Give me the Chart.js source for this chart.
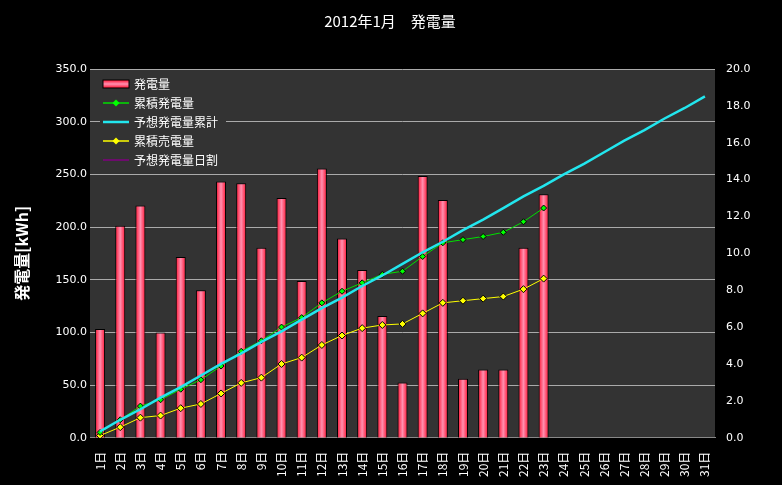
<!DOCTYPE html>
<html><head><meta charset="utf-8">
<script src="https://cdn.jsdelivr.net/npm/chart.js@4"></script>
<style>body{margin:0;background:#000}#wrap{width:782px;height:485px}</style>
</head><body><div id="wrap"><canvas id="c"></canvas></div>
<script>
const days = ["1日","2日","3日","4日","5日","6日","7日","8日","9日","10日","11日","12日","13日","14日","15日","16日","17日","18日","19日","20日","21日","22日","23日","24日","25日","26日","27日","28日","29日","30日","31日"];
const daily = [5.9,11.5,12.6,5.7,9.8,8.0,13.9,13.8,10.3,13.0,8.5,14.6,10.8,9.1,6.6,3.0,14.2,12.9,3.2,3.7,3.7,10.3,13.2];
const cumGen = [5,17,30,36,46,55,68,82,92,105,114,128,139,147,155,158,172,185,188,191,195,205,218];
const cumSold = [2,10,19,21,28,32,42,52,57,70,76,88,97,104,107,108,118,128,130,132,134,141,151];
const forecastCum = [6,17,27,38,48,59,70,80,91,101,112,123,133,144,154,165,176,186,197,207,218,229,239,250,260,271,282,292,303,313,324];
const font = "'Noto Sans CJK JP'";
const ctx = document.getElementById("c").getContext("2d");
function barGrad(c){
  const a = c.chart.chartArea, x = c.chart.scales.x;
  if(!a || !x || c.dataIndex===undefined) return "#f24";
  const cx = x.getPixelForValue(c.dataIndex), w = (a.right-a.left)/31*0.9*0.55;
  const g = c.chart.ctx.createLinearGradient(cx - w/2, 0, cx + w/2, 0);
  g.addColorStop(0,"#ff1030"); g.addColorStop(0.5,"#ff90b0"); g.addColorStop(1,"#ff1030");
  return g;
}
const legendItems = [
  ["発電量","bar"],["累積発電量","#00e000","#00ff00"],["予想発電量累計","#22e6ee"],["累積売電量","#ffff00","#ffff00"],["予想発電量日割","#800080"]
];
new Chart(ctx, {
  data: {
    labels: days,
    datasets: [
      {type:"bar",label:"発電量",data:daily,yAxisID:"y1",backgroundColor:barGrad,borderColor:"#000",borderWidth:1,categoryPercentage:0.9,barPercentage:0.55,order:5},
      {type:"line",label:"累積発電量",data:cumGen,yAxisID:"y",borderColor:"#00e000",backgroundColor:"#00ff00",borderWidth:1,pointRadius:3,pointStyle:"rectRot",pointBorderColor:"#000",order:2},
      {type:"line",label:"予想発電量累計",data:forecastCum,yAxisID:"y",borderColor:"#22e6ee",backgroundColor:"#22e6ee",borderWidth:2.5,pointRadius:0,order:1},
      {type:"line",label:"累積売電量",data:cumSold,yAxisID:"y",borderColor:"#ffff00",backgroundColor:"#ffff00",borderWidth:1,pointRadius:3.5,pointStyle:"rectRot",pointBorderColor:"#000",order:3},
      {type:"line",label:"予想発電量日割",data:[],yAxisID:"y",borderColor:"#800080",backgroundColor:"#800080",borderWidth:1,pointRadius:0,order:4}
    ]
  },
  options: {
    responsive:true, maintainAspectRatio:false, animation:false,
    layout:{padding:{left:8,right:10,top:0,bottom:2}},
    plugins:{
      title:{display:true,text:"2012年1月　発電量",color:"#fff",font:{family:font,size:15,weight:"normal"},padding:{top:12,bottom:39}},
      legend:{display:false},
      tooltip:{enabled:false}
    },
    scales:{
      x:{grid:{display:false},border:{color:"#888"},ticks:{color:"#fff",font:{family:font,size:12},maxRotation:90,minRotation:90,padding:6}},
      y:{position:"left",min:0,max:350,ticks:{stepSize:50,color:"#fff",font:{family:"DejaVu Sans",size:11},callback:v=>v.toFixed(1)},
        grid:{color:"#aaa",drawTicks:false},border:{display:false},
        title:{display:true,text:"発電量[kWh]",color:"#fff",font:{family:font,size:16,weight:"bold"}},
        afterFit:s=>{s.width=82}},
      y1:{position:"right",min:0,max:20,ticks:{stepSize:2,color:"#fff",font:{family:"DejaVu Sans",size:11},callback:v=>v.toFixed(1)},
        grid:{display:false},border:{display:false},afterFit:s=>{s.width=57}}
    }
  },
  plugins:[{id:"bg",
    beforeDraw(c){const k=c.ctx,a=c.chartArea;k.save();k.fillStyle="#000";k.fillRect(0,0,c.width,c.height);k.fillStyle="#333";k.fillRect(a.left,a.top,a.right-a.left,a.bottom-a.top);k.restore();},
    afterDraw(c){
      const k=c.ctx,a=c.chartArea;k.save();
      const x0=a.left+13,y0=a.top+15;
      k.fillStyle="#333";k.fillRect(a.left+10,a.top+4,126,92);
      k.font="12px "+font;k.textBaseline="middle";
      legendItems.forEach((it,i)=>{
        const y=y0+i*19;
        if(it[1]==="bar"){
          const g=k.createLinearGradient(0,y-4,0,y+4);g.addColorStop(0,"#ff1030");g.addColorStop(0.5,"#ff90b0");g.addColorStop(1,"#ff1030");
          k.fillStyle=g;k.fillRect(x0,y-4,26,8);k.strokeStyle="#000";k.strokeRect(x0,y-4,26,8);
        } else {
          k.strokeStyle=it[1];k.lineWidth=it[1]==="#22e6ee"?2.5:1.5;k.beginPath();k.moveTo(x0,y);k.lineTo(x0+26,y);k.stroke();
          if(it[2]){k.fillStyle=it[2];k.beginPath();k.moveTo(x0+13,y-3.5);k.lineTo(x0+16.5,y);k.lineTo(x0+13,y+3.5);k.lineTo(x0+9.5,y);k.closePath();k.fill();}
        }
        k.fillStyle="#fff";k.fillText(it[0],x0+31,y);
      });
      k.restore();
    }}]
});
</script></body></html>
